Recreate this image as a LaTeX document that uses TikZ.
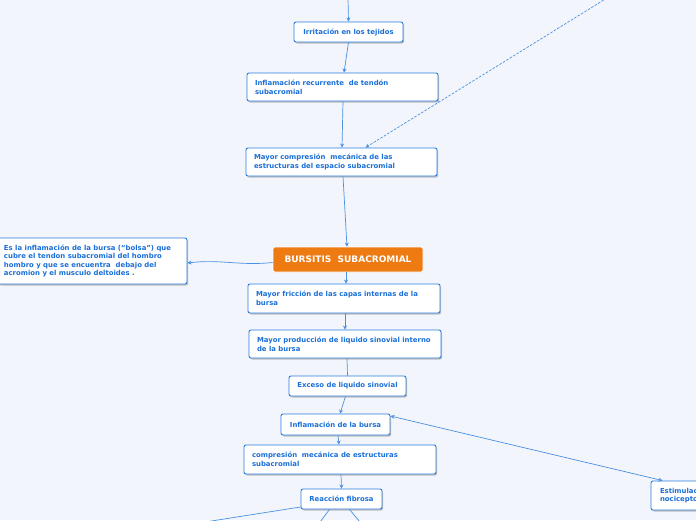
\documentclass[tikz,border=0pt]{standalone}
\usepackage{fontspec}
\setmainfont{DejaVu Sans}
\usetikzlibrary{arrows.meta}
\definecolor{bg}{HTML}{F2F5FC}
\definecolor{bc}{HTML}{2B7DE0}
\definecolor{tc}{HTML}{1A6FD8}
\definecolor{lc}{HTML}{4A90E2}
\definecolor{orng}{HTML}{EE7A12}
\tikzset{
  box/.style={draw=bc, fill=white, rounded corners=2pt, line width=0.9pt, text=tc,
    font=\fontsize{6.9}{8.6}\selectfont\bfseries, align=left, inner sep=0pt},
  sbox/.style={box, align=center},
  con/.style={draw=lc, line width=0.7pt, -{Stealth[length=4pt,width=4pt]}},
  conn/.style={draw=lc, line width=0.7pt},
}
\begin{document}
\begin{tikzpicture}[x=1pt,y=-1pt]
\fill[bg] (0,0) rectangle (696,520);
\useasboundingbox (0,0) rectangle (696,520);
% shadows
\foreach \a/\b/\c/\d in {294/22/403/42, 247/73/438/101, 246/148/437/176, 248/284/440/313, 249/330/441/358, 289/376/406/396, 281/414/390/435, 244/445/436/474, 301/489/382/509, -2/238/187/284, 651/481/760/510}
  \fill[black!25, rounded corners=2pt] (\a+1.2,\b+1.5) rectangle (\c+1.2,\d+1.5);
\node[sbox, minimum width=109pt, minimum height=20pt] (n1) at (348.5,32) {Irritación en los tejidos};
\node[box, minimum width=191pt, minimum height=28pt] (n2) at (342.5,87) {\parbox{175pt}{Inflamación recurrente \ de tendón\\subacromial}};
\node[box, minimum width=191pt, minimum height=28pt] (n3) at (341.5,162) {\parbox{175pt}{Mayor compresión \ mecánica de las\\estructuras del espacio subacromial}};
\node[draw=white, fill=orng, rounded corners=2pt, line width=0.8pt, text=white, font=\fontsize{9}{10}\selectfont\bfseries, minimum width=150pt, minimum height=25pt, inner sep=0pt] (n4) at (348,259.5) {BURSITIS \ SUBACROMIAL};
\node[box, minimum width=189pt, minimum height=46pt] (n5) at (92.5,261) {\parbox{177pt}{Es la inflamación de la bursa (“bolsa”) que\\cubre el tendon subacromial del hombro\\hombro y que se encuentra \ debajo del\\acromion y el musculo deltoides .}};
\node[box, minimum width=192pt, minimum height=29pt] (n6) at (344,298.5) {\parbox{176pt}{Mayor fricción de las capas internas de la\\bursa}};
\node[box, minimum width=192pt, minimum height=28pt] (n7) at (345,344) {\parbox{176pt}{Mayor producción de liquido sinovial interno\\de la bursa}};
\node[sbox, minimum width=117pt, minimum height=20pt] (n8) at (347.5,386) {Exceso de liquido sinovial};
\node[sbox, minimum width=109pt, minimum height=21pt] (n9) at (335.5,424.5) {Inflamación de la bursa};
\node[box, minimum width=192pt, minimum height=29pt] (n10) at (340,459.5) {\parbox{176pt}{compresión \ mecánica de estructuras\\subacromial}};
\node[sbox, minimum width=81pt, minimum height=20pt] (n11) at (341.5,499) {Reacción fibrosa};
\node[box, minimum width=109pt, minimum height=29pt] (n12) at (705.5,495.5) {\parbox{91pt}{Estimulación de los\\nociceptores}};
% free ends
\coordinate (t0) at (348,-2);
\coordinate (t1) at (607,-2);
\coordinate (b1) at (205,522);
\coordinate (b2) at (320,522);
\coordinate (b3) at (360,522);
% connectors
\draw[con] (t0) -- (n1.north);
\draw[con] (n1.south) -- ([xshift=1.5pt]n2.north);
\draw[con] ([xshift=0.5pt]n2.south) -- ([xshift=0.5pt]n3.north);
\draw[con, dashed, dash pattern=on 2.5pt off 1.5pt] (t1) -- ([xshift=24pt]n3.north);
\draw[con] ([xshift=1.5pt]n3.south) -- ([xshift=-1pt]n4.north);
\draw[con] ([yshift=-3pt]n4.west) .. controls (240,266) and (220,259) .. ([yshift=-2pt]n5.east);
\draw[con] ([xshift=-2pt]n4.south) -- ([xshift=2pt]n6.north);
\draw[con] ([xshift=1pt]n6.south) -- (n7.north);
\draw[conn] ([xshift=2pt]n7.south) -- (n8.north);
\draw[con] ([xshift=-2pt]n8.south) -- ([xshift=4.5pt]n9.north);
\draw[con] ([xshift=2.5pt]n9.south) -- ([xshift=-1pt]n10.north);
\draw[con] ([xshift=1pt]n10.south) -- (n11.north);
\draw[con, {Stealth[length=4pt,width=4pt]}-{Stealth[length=4pt,width=4pt]}] ([yshift=8.5pt]n9.east) -- ([xshift=-43pt]n12.north);
\draw[conn] ([yshift=-8pt]n11.west) -- (b1);
\draw[conn] ([xshift=-12pt]n11.south) -- (b2);
\draw[conn] ([xshift=8pt]n11.south) -- (b3);
\end{tikzpicture}
\end{document}
